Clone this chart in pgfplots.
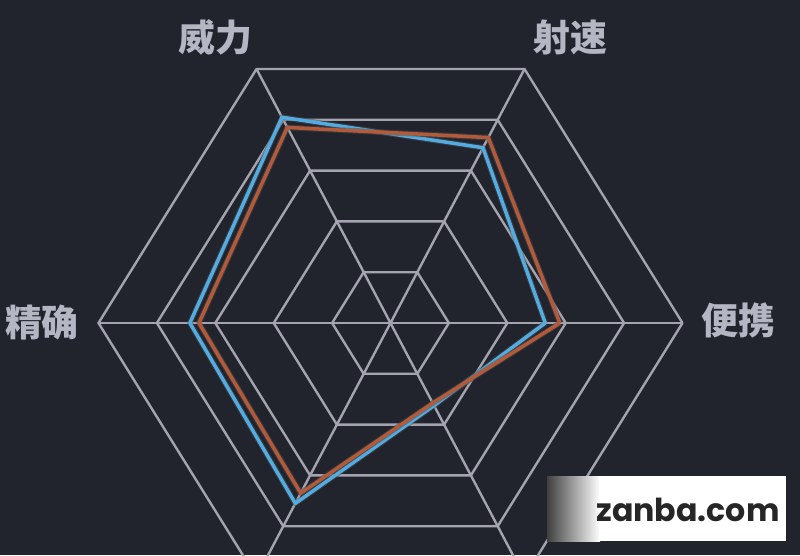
\documentclass[border=0pt]{standalone}
\usepackage{pgfplots}
\pgfplotsset{compat=1.18}
\usepackage{pgfplotstable}
\usepackage{fontspec}
\newfontfamily\cjk{Noto Sans CJK SC}
\newfontfamily\wm{Poppins}

\definecolor{bg}{HTML}{22242D}
\definecolor{gridc}{HTML}{A4A4B0}
\definecolor{labc}{HTML}{B4B6C4}
\definecolor{bluec}{HTML}{52ACE2}
\definecolor{orangec}{HTML}{B35A3A}

% direction of each spoke (pixels) and the two series as fractions of the outer ring
\pgfplotstableread{
dx   dy    blue   orange
292  0     0.53   0.58
134  254   0.69   0.73
-134 254   0.81   0.77
-292 0     0.687  0.656
-134 -254  0.71   0.67
134  -254  0.325  0.315
292  0     0.53   0.58
}\radar

\begin{document}
\begin{tikzpicture}
\begin{axis}[
    width=16cm, height=11.1cm, scale only axis,
    xmin=0, xmax=800, ymin=0, ymax=555,
    axis lines=none, ticks=none,
]
\fill[bg] (axis cs:0,0) rectangle (axis cs:800,555);

% rings
\pgfplotsinvokeforeach{0.2,0.4,0.6,0.8,1}{
  \addplot[gridc, line width=1.35pt, mark=none]
    table[x expr={390.5+#1*\thisrow{dx}}, y expr={232+#1*\thisrow{dy}}]{\radar};
}
% spokes
\addplot[gridc, line width=1.35pt] coordinates {(98.5,232) (682.5,232)};
\addplot[gridc, line width=1.35pt] coordinates {(256.5,486) (524.5,-22)};
\addplot[gridc, line width=1.35pt] coordinates {(524.5,486) (256.5,-22)};

% series
\addplot[black!70, opacity=0.5, line width=3.2pt, line join=round]
  table[x expr={390.5+\thisrow{blue}*\thisrow{dx}}, y expr={232+\thisrow{blue}*\thisrow{dy}}]{\radar};
\addplot[bluec, line width=2pt, line join=round]
  table[x expr={390.5+\thisrow{blue}*\thisrow{dx}}, y expr={232+\thisrow{blue}*\thisrow{dy}}]{\radar};
\addplot[black!70, opacity=0.5, line width=3.2pt, line join=round]
  table[x expr={390.5+\thisrow{orange}*\thisrow{dx}}, y expr={232+\thisrow{orange}*\thisrow{dy}}]{\radar};
\addplot[orangec, line width=2pt, line join=round]
  table[x expr={390.5+\thisrow{orange}*\thisrow{dx}}, y expr={232+\thisrow{orange}*\thisrow{dy}}]{\radar};

% axis names
\node[text=labc, font=\cjk\bfseries\fontsize{21}{21}\selectfont] at (axis cs:215,518) {威力};
\node[text=labc, font=\cjk\bfseries\fontsize{21}{21}\selectfont] at (axis cs:570,518) {射速};
\node[text=labc, font=\cjk\bfseries\fontsize{21}{21}\selectfont] at (axis cs:42,233) {精确};
\node[text=labc, font=\cjk\bfseries\fontsize{21}{21}\selectfont] at (axis cs:738,235) {便携};

% watermark
\shade[left color=black!75, right color=white] (axis cs:547,14) rectangle (axis cs:600,79);
\fill[white] (axis cs:599,14) rectangle (axis cs:786,79);
\node[text=black!85, font=\wm\bfseries\fontsize{18}{18}\selectfont] at (axis cs:688,45) {zanba.com};
\end{axis}
\end{tikzpicture}
\end{document}
